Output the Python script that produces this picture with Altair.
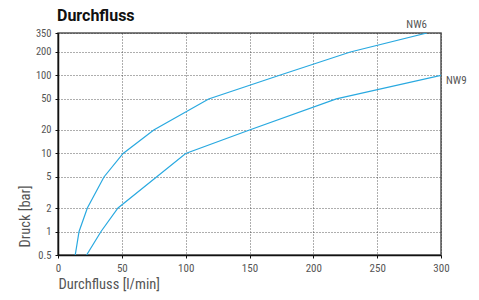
import altair as alt
import pandas as pd

# NW6 curve
nw6_flow = [13.5, 16.5, 23, 36, 51, 75, 118, 173, 229, 289]
nw6_pressure = [0.5, 1, 2, 5, 10, 20, 50, 100, 200, 350]
# NW9 curve
nw9_flow = [22.4, 33.7, 47, 100, 150, 218, 300]
nw9_pressure = [0.5, 1, 2, 10, 20, 50, 100]

y_ticks = [0.5, 1, 2, 5, 10, 20, 50, 100, 200, 350]
x_ticks = [0, 50, 100, 150, 200, 250, 300]
chart_title = ["Durchfluss"]

FONT = "'Roboto Condensed', 'Liberation Sans Narrow', 'Arial Narrow', Roboto, sans-serif"
BLUE = "#29a9e0"

df = pd.concat([
    pd.DataFrame({"flow": nw6_flow, "pressure": nw6_pressure, "serie": "NW6"}),
    pd.DataFrame({"flow": nw9_flow, "pressure": nw9_pressure, "serie": "NW9"}),
])

labels = pd.DataFrame({
    "flow": [nw6_flow[-1], nw9_flow[-1]],
    "pressure": [nw6_pressure[-1], nw9_pressure[-1]],
    "serie": ["NW6", "NW9"],
})

x = alt.X("flow:Q",
          scale=alt.Scale(domain=[0, 300], nice=False),
          axis=alt.Axis(values=x_ticks, title="Durchfluss [l/min]",
                        titleX=0, titleY=33, titleAlign="left",
                        titleBaseline="alphabetic", titleAnchor="start",
                        labelPadding=4, tickSize=3, labelFlush=False))
y = alt.Y("pressure:Q",
          scale=alt.Scale(type="log", domain=[0.5, 350], nice=False),
          axis=alt.Axis(values=y_ticks, title="Druck [bar]",
                        titleAngle=-90, titleX=-29, titleY=214,
                        titleAlign="left", titleBaseline="alphabetic",
                        labelPadding=4, tickSize=3, labelFlush=False))

lines = alt.Chart(df).mark_line(color=BLUE, strokeWidth=1.2, clip=True).encode(
    x=x, y=y, detail="serie:N"
)

lab6 = alt.Chart(labels[labels.serie == "NW6"]).mark_text(
    align="right", baseline="bottom", dx=0, dy=-3, font=FONT, fontSize=11, color="#555"
).encode(x=alt.X("flow:Q"), y=alt.Y("pressure:Q"), text="serie:N")

lab9 = alt.Chart(labels[labels.serie == "NW9"]).mark_text(
    align="left", baseline="middle", dx=5, dy=6, font=FONT, fontSize=11, color="#555"
).encode(x=alt.X("flow:Q"), y=alt.Y("pressure:Q"), text="serie:N")

title_mark = alt.Chart(pd.DataFrame({"t": chart_title})).mark_text(
    align="left", baseline="alphabetic", font="Roboto", fontSize=16, fontWeight="bold",
    color="#111"
).encode(x=alt.value(-1), y=alt.value(-12), text="t:N")

chart = alt.layer(lines, lab6, lab9, title_mark).properties(
    width=383, height=222,
    autosize=alt.AutoSizeParams(type="none"),
    padding={"left": 50, "top": 25, "right": 30, "bottom": 37},
).configure_view(
    stroke="#555", strokeWidth=1.5
).configure_axis(
    labelFont=FONT, labelFontSize=11, labelColor="#555",
    titleFont=FONT, titleFontSize=14.5, titleFontWeight="normal", titleColor="#555",
    domainColor="#111", domainWidth=1.5, tickColor="#111",
    gridColor="#333", gridDash=[1, 2], gridWidth=0.8, gridOpacity=1,
).configure_axisY(
    labelFontSize=10.5
)

chart.save("out.html", embed_options={"renderer": "svg", "actions": False})
